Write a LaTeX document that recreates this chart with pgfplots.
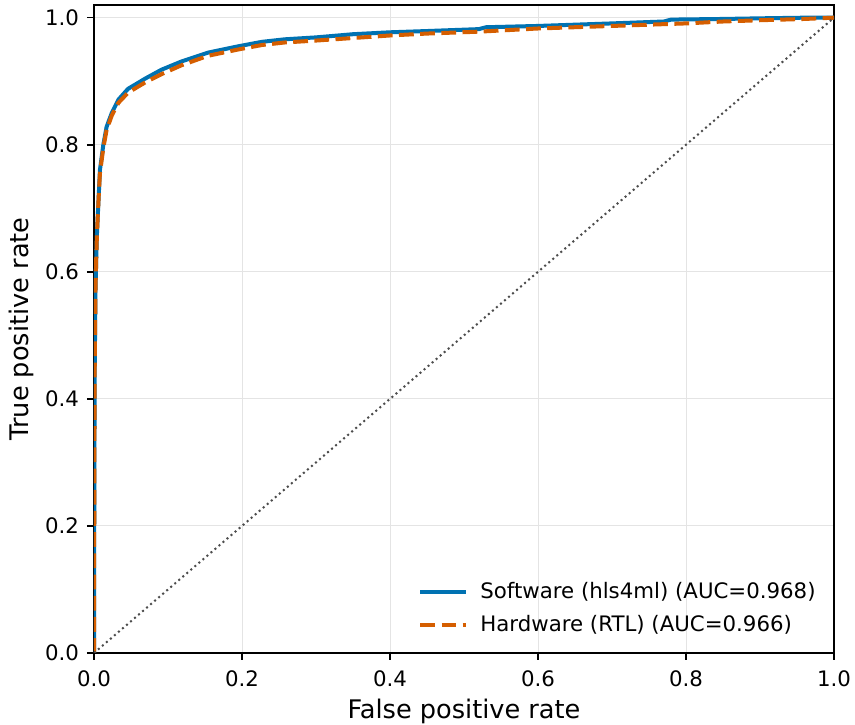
\documentclass[border=0pt]{standalone}
\usepackage{fontspec}
\setmainfont{DejaVu Sans}
\usepackage{pgfplots}
\pgfplotsset{compat=1.18}
\definecolor{swblue}{HTML}{0072B2}
\definecolor{hworange}{HTML}{D55E00}
\definecolor{gridgray}{HTML}{E4E4E4}
\begin{document}
\begin{tikzpicture}
\begin{axis}[
  scale only axis,
  width=370pt, height=324pt,
  xmin=0, xmax=1, ymin=0, ymax=1.02,
  xtick={0,0.2,0.4,0.6,0.8,1.0},
  ytick={0,0.2,0.4,0.6,0.8,1.0},
  /pgf/number format/assume math mode=true,
  /pgf/number format/.cd, fixed, fixed zerofill, precision=1, /pgfplots/.cd,
  ticklabel style={font=\fontsize{10.65}{12.5}\selectfont},
  xticklabel style={yshift=-2pt},
  yticklabel style={xshift=-0.5pt},
  tick align=outside,
  major tick length=3.5pt,
  tick style={line width=0.8pt, black},
  xtick pos=bottom, ytick pos=left,
  axis line style={line width=1pt},
  grid=major,
  major grid style={line width=0.5pt, color=gridgray},
  xlabel={False positive rate},
  ylabel={True positive rate},
  label style={font=\fontsize{12.8}{15}\selectfont},
  xlabel style={yshift=1pt},
  ylabel style={yshift=-1pt},
  legend cell align=left,
  legend style={draw=none, fill=none, at={(1,0)}, anchor=south east,
    xshift=-4pt, yshift=5pt, font=\fontsize{10.65}{12.5}\selectfont,
    row sep=3pt},
  legend image code/.code={\draw[#1] (0pt,0pt) -- (23pt,0pt);},
]
\addplot[swblue, line width=2pt] coordinates {
(0,0) (0.0005,0.3) (0.001,0.45) (0.002,0.57) (0.003,0.62) (0.004,0.66)
(0.006,0.71) (0.008,0.76) (0.0126,0.80) (0.017,0.828) (0.024,0.85)
(0.033,0.871) (0.046,0.888) (0.069,0.904) (0.091,0.918) (0.118,0.931)
(0.154,0.945) (0.195,0.955) (0.227,0.962) (0.258,0.966) (0.30,0.969)
(0.35,0.974) (0.40,0.977) (0.45,0.979) (0.52,0.982) (0.53,0.985)
(0.60,0.987) (0.70,0.991) (0.77,0.994) (0.78,0.997) (0.85,0.998)
(0.90,0.999) (0.96,1.0) (1,1)
};
\addlegendentry{\hspace{4pt}Software (hls4ml) (AUC=0.968)}
\addplot[hworange, line width=2pt, dash pattern=on 7.4pt off 3.2pt] coordinates {
(0,0) (0.0005,0.3) (0.001,0.45) (0.002,0.57) (0.003,0.62) (0.004,0.66)
(0.006,0.71) (0.008,0.755) (0.0126,0.795) (0.017,0.823) (0.024,0.846)
(0.033,0.866) (0.046,0.882) (0.069,0.898) (0.091,0.911) (0.118,0.925)
(0.154,0.940) (0.195,0.950) (0.227,0.957) (0.258,0.961) (0.30,0.964)
(0.35,0.968) (0.40,0.972) (0.45,0.975) (0.52,0.978) (0.60,0.983)
(0.70,0.987) (0.80,0.991) (0.85,0.994) (0.90,0.996) (0.96,0.998) (1,1)
};
\addlegendentry{\hspace{4pt}Hardware (RTL) (AUC=0.966)}
\addplot[black!70, line width=1pt, dash pattern=on 1pt off 1.65pt, forget plot] coordinates {(0,0) (1,1)};
\end{axis}
\pgfresetboundingbox
\path[use as bounding box] ([shift={(-47pt,-36pt)}]current axis.south west) rectangle ([shift={(10.5pt,2.5pt)}]current axis.north east);
\end{tikzpicture}
\end{document}
